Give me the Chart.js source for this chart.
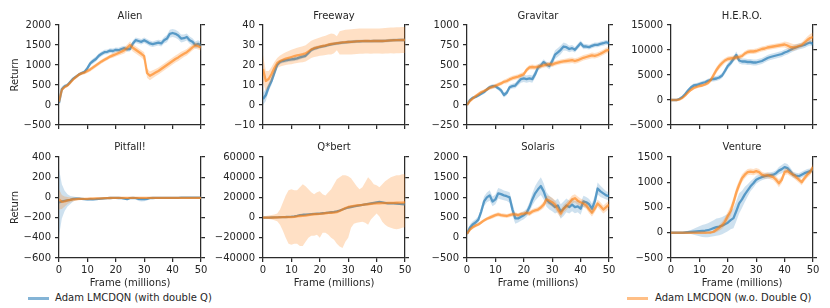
<!DOCTYPE html>
<html>
<head>
<meta charset="utf-8">
<script src="https://cdn.jsdelivr.net/npm/chart.js@4.4.1/dist/chart.umd.min.js"></script>
<style>
  html, body { margin: 0; padding: 0; background: #fff; }
  #wrap { position: relative; width: 830px; height: 308px; overflow: hidden; background: #fff;
          font-family: "DejaVu Sans", sans-serif; color: #262626; }
  canvas { position: absolute; }
  .ttl { position: absolute; width: 142px; text-align: center; font-size: 10px; line-height: 12px; white-space: nowrap; }
  .leg { position: absolute; font-size: 10px; line-height: 12px; white-space: nowrap; }
  .sw { position: absolute; height: 2.5px; width: 21px; }
</style>
</head>
<body>
<div id="wrap"></div>
<script>
// ---------------- data ----------------
const FRAMES = [0,1,2,3,4,5,6,7,8,9,10,11,12,13,14,15,16,17,18,19,20,21,22,23,24,25,26,27,28,29,30,31,32,33,34,35,36,37,38,39,40,41,42,43,44,45,46,47,48,49,50];
const X_TICKS = [0,10,20,30,40,50];
const TITLES = ['Alien','Freeway','Gravitar','H.E.R.O.','Pitfall!','Q*bert','Solaris','Venture'];
const SERIES_NAMES = ['Adam LMCDQN (with double Q)','Adam LMCDQN (w.o. Double Q)'];

const ALIEN_TICKS = [-500,0,500,1000,1500,2000];
const FREEWAY_TICKS = [-10,0,10,20,30,40];
const GRAVITAR_TICKS = [-250,0,250,500,750,1000];
const HERO_TICKS = [-5000,0,5000,10000,15000];
const PITFALL_TICKS = [-600,-400,-200,0,200,400];
const QBERT_TICKS = [-40000,-20000,0,20000,40000,60000];
const SOLARIS_TICKS = [-500,0,500,1000,1500,2000];
const VENTURE_TICKS = [-500,0,500,1000,1500];

const ALIEN_BLUE = [50,400,470,500,580,660,710,760,800,830,920,1040,1100,1150,1230,1280,1320,1330,1360,1350,1380,1370,1400,1420,1390,1400,1540,1620,1600,1580,1620,1580,1540,1520,1540,1560,1540,1620,1660,1780,1800,1780,1740,1660,1670,1700,1620,1580,1500,1530,1480];
const ALIEN_BLUE_HW = [40,60,50,40,40,40,40,40,40,40,50,60,60,60,60,60,60,60,60,60,60,60,60,60,60,60,70,70,70,70,70,70,70,70,70,70,80,80,90,100,100,100,100,100,90,90,90,90,90,90,90];
const ALIEN_ORANGE = [80,380,450,490,560,640,700,760,790,810,850,890,940,990,1040,1090,1130,1170,1210,1240,1270,1300,1330,1370,1430,1500,1430,1380,1330,1280,1220,800,730,770,810,850,900,950,1000,1050,1100,1150,1190,1240,1280,1320,1380,1440,1490,1470,1440];
const ALIEN_ORANGE_HW = [50,50,40,40,40,40,40,40,40,40,50,50,50,50,50,50,50,50,50,60,60,60,70,80,80,90,90,90,90,90,100,120,110,100,90,90,90,90,90,90,90,90,90,90,80,80,80,80,80,80,80];

const FREEWAY_BLUE = [3,5,9,12,16,20,21.5,22,22.3,22.6,22.8,23,23.3,23.8,24.2,24.6,26,27.5,28.2,28.6,29,29.3,29.6,30,30.3,30.6,30.8,31,31.2,31.3,31.5,31.6,31.7,31.8,31.8,31.9,31.9,31.9,31.9,32,32,32,32,32.1,32.2,32.3,32.4,32.4,32.5,32.5,32.5];
const FREEWAY_BLUE_HW = [3,3,2,2,1.5,1,1,1,1,1,1,1,1,1,1,1,1,1,1,1,0.8,0.8,0.8,0.8,0.8,0.8,0.8,0.8,0.8,0.8,0.8,0.8,0.8,0.8,0.8,0.8,0.8,0.8,0.8,0.8,0.8,0.8,0.8,0.8,0.8,0.8,0.8,0.8,0.8,0.8,0.8];
const FREEWAY_ORANGE = [18,12,13,15.5,18.5,21,22,22.6,23.2,23.6,24,24.4,24.8,25.1,25.4,25.8,26.8,27.8,28.4,28.8,29.2,29.5,29.8,30.2,30.5,30.7,30.9,31.1,31.3,31.4,31.5,31.6,31.7,31.8,31.9,31.9,32,32,31.9,32,32,32,32,32.1,32.2,32.3,32.3,32.4,32.4,32.5,32.5];
const FREEWAY_ORANGE_HW = [7,5,4,3.5,3,2.5,2.8,3,3.2,3.4,3.6,3.7,3.8,3.9,4,4.1,4.2,4.3,4.4,4.5,4.6,4.7,4.8,5,5.2,4.8,3.5,5.8,6,6.2,6.3,6.3,6.3,6.3,6.3,6.3,6.3,6.3,6.3,6.3,6.3,6.3,6.4,6.4,6.4,6.4,6.5,6.5,6.5,6.5,6.5];

const GRAVITAR_BLUE = [0,60,88,100,120,141,161,194,222,235,235,210,182,125,153,222,235,243,283,324,332,324,332,324,385,467,495,536,507,487,548,630,658,690,731,723,700,711,690,731,772,731,731,723,740,752,752,764,772,784,772];
const GRAVITAR_BLUE_HW = [10,20,20,20,20,20,25,25,25,25,25,25,30,30,30,30,30,35,40,45,45,45,45,45,45,40,35,35,35,40,50,55,55,55,50,45,40,40,35,35,35,35,30,30,30,30,30,30,30,30,30];
const GRAVITAR_ORANGE = [0,50,80,110,135,160,175,195,215,225,240,255,270,290,300,320,335,345,355,370,385,440,470,475,470,480,485,495,505,510,505,520,530,540,545,550,555,560,550,560,575,590,600,610,620,615,625,640,660,680,690];
const GRAVITAR_ORANGE_HW = [10,20,20,20,20,20,20,20,25,25,25,25,25,25,30,30,30,30,30,30,30,30,30,30,30,30,30,30,30,30,30,30,30,30,30,30,35,35,35,35,35,35,35,35,35,35,35,35,35,35,35];

const HERO_BLUE = [0,0,0,250,600,1200,1900,2500,2900,3000,3200,3400,3550,3850,4050,4200,4300,4500,4900,5800,6800,7400,8200,9000,7900,7700,7700,7600,7600,7500,7500,7650,7800,8100,8400,8600,8750,8900,9050,9200,9500,9700,10000,10300,10500,10700,10850,11000,11300,11500,11200];
const HERO_BLUE_HW = [50,50,50,100,200,300,400,400,400,400,400,400,400,400,400,500,500,500,500,600,600,600,600,700,600,600,600,600,600,600,600,600,600,600,600,600,600,600,600,600,600,600,600,600,600,600,600,600,600,600,600];
const HERO_ORANGE = [0,0,0,100,400,900,1500,2000,2400,2600,2800,2900,3100,3400,4000,5000,6000,6800,7400,7900,8200,8300,8400,8500,8600,8800,9300,9600,9700,9700,9800,10000,10200,10300,10500,10600,10700,10800,10900,11000,11100,10900,10600,10500,10600,10800,11000,11500,12000,12400,12600];
const HERO_ORANGE_HW = [50,50,50,100,200,300,300,300,300,300,300,300,300,400,500,600,600,600,600,500,500,500,500,500,500,500,500,500,500,500,500,500,500,500,500,500,500,500,500,500,600,700,800,700,600,500,500,600,700,800,900];

const PITFALL_BLUE = [-50,-40,-35,-30,-25,-15,-12,-12,-15,-18,-20,-18,-20,-18,-15,-12,-10,-8,-6,-5,-5,-6,-8,-12,-18,-8,-6,-8,-15,-18,-18,-15,-8,-6,-5,-5,-5,-5,-4,-4,-4,-4,-4,-3,-3,-3,-3,-3,-3,-3,-3];
const PITFALL_BLUE_HW = [330,170,100,60,40,25,15,12,10,10,10,10,10,10,10,10,8,8,8,8,8,8,8,8,10,8,8,10,20,22,20,15,8,8,6,6,6,6,6,6,6,6,6,6,6,6,6,6,6,6,6];
const PITFALL_ORANGE = [-20,-45,-40,-30,-25,-20,-18,-15,-15,-15,-14,-12,-12,-10,-10,-10,-8,-7,-6,-5,-5,-5,-5,-5,-5,-5,-5,-5,-5,-5,-5,-5,-5,-5,-5,-5,-5,-5,-5,-5,-5,-5,-5,-5,-5,-5,-5,-5,-5,-5,-5];
const PITFALL_ORANGE_HW = [100,70,50,35,25,18,14,12,10,10,10,10,10,10,10,10,10,10,10,10,10,10,10,10,10,10,10,10,10,10,10,10,10,10,10,10,10,10,10,10,10,10,10,10,10,10,10,10,10,10,10];

const QBERT_BLUE = [0,0,0,100,200,300,400,500,600,800,1000,1300,1800,2500,2800,3000,3200,3400,3600,3800,4000,4300,4600,5000,5300,5600,6200,7000,8000,9000,10000,10500,11000,11500,12000,12500,13000,13500,14000,14500,15000,15500,15000,14500,14000,14000,14000,13800,13500,13300,13000];
const QBERT_BLUE_HW = [200,200,200,200,300,300,300,400,400,400,500,500,600,600,700,700,700,700,700,700,800,800,800,800,800,800,900,900,1000,1000,1000,1000,1000,1000,1000,1000,1000,1000,1000,1000,1000,1000,1000,1000,1000,1000,1000,1000,1000,1000,1000];
const QBERT_ORANGE = [0,0,0,0,100,200,300,400,400,450,500,800,1200,1600,1800,2000,2500,3000,3300,3500,3700,4000,4300,4600,4800,5000,5500,6500,8000,9500,10500,11000,11500,12000,12300,12500,13000,13200,13500,13800,14000,14200,14300,14400,14500,14500,14600,14700,14800,14900,15000];
const QBERT_ORANGE_HI = [1000,1500,2000,2500,3000,4000,8000,15000,22000,27000,28000,27000,27000,30000,33000,31000,28000,25000,23000,25000,26000,23000,22000,25000,28000,33000,38000,40000,42000,42000,41000,39000,35000,31000,28000,30000,35000,40000,37000,33000,32000,30000,33000,36000,38000,40000,41000,42000,42000,43000,43000];
const QBERT_ORANGE_LO = [-1000,-1200,-1500,-2000,-2500,-3500,-7000,-13000,-20000,-26000,-27000,-26000,-26000,-28000,-28000,-24000,-20000,-18000,-18000,-17000,-20000,-15000,-15000,-17000,-20000,-22000,-26000,-28500,-30000,-24000,-20000,-10000,-6000,-5000,-4500,-4000,-5000,-7000,-2000,1000,4000,1000,-4000,-7000,-9000,-10000,-11000,-11500,-11000,-10000,-9500];

const SOLARIS_BLUE = [100,250,330,380,450,650,900,1000,1050,900,950,1100,1080,1050,1030,1000,700,480,480,520,560,620,760,950,1100,1200,1280,1150,950,870,820,760,800,650,720,800,760,820,760,780,720,900,880,830,720,900,1220,1150,1100,1050,1030];
const SOLARIS_BLUE_HW = [50,80,80,80,80,100,120,120,130,120,120,130,130,120,120,130,150,130,100,100,100,100,120,150,180,200,220,200,180,170,160,160,170,180,180,170,160,160,150,150,150,140,130,130,130,140,150,140,120,100,100];
const SOLARIS_ORANGE = [100,200,260,300,330,380,430,470,500,530,560,580,560,550,540,560,580,580,560,590,600,620,600,650,680,700,750,820,950,920,880,820,700,600,720,780,860,950,980,920,880,850,800,700,620,720,850,780,700,760,820];
const SOLARIS_ORANGE_HW = [30,40,40,40,40,40,40,40,50,50,50,50,50,50,50,50,50,50,50,50,50,60,60,60,60,60,70,80,100,110,110,110,110,100,100,100,100,100,100,100,90,90,90,90,90,90,90,100,100,100,100];

const VENTURE_BLUE = [0,0,0,0,0,5,10,15,20,25,30,35,40,50,70,90,110,120,140,170,200,250,290,430,580,660,760,840,920,980,1050,1080,1100,1120,1130,1140,1150,1180,1230,1260,1300,1280,1220,1150,1130,1120,1150,1180,1200,1220,1260];
const VENTURE_BLUE_HW = [0,0,0,0,5,20,30,40,60,80,100,120,130,140,150,160,170,170,170,170,170,180,200,200,200,170,150,120,100,90,80,70,60,60,60,60,60,60,70,80,80,80,70,60,60,60,60,60,60,50,50];
const VENTURE_ORANGE = [0,0,0,0,0,0,0,0,0,0,0,0,0,2,5,20,60,100,150,220,330,430,600,800,950,1080,1150,1200,1210,1200,1220,1200,1150,1130,1140,1120,1100,1050,980,1050,1200,1220,1180,1150,1100,1050,1000,1080,1150,1200,1300];
const VENTURE_ORANGE_HW = [0,0,0,0,0,0,0,0,0,0,0,0,5,10,20,30,50,60,70,80,90,100,100,100,90,80,70,60,60,60,60,60,60,60,60,60,60,70,80,70,60,60,60,60,60,60,60,60,60,60,60];

// ---------------- panels table built from the arrays ----------------
const addArr = (a, b, s) => a.map((v, i) => v + s * b[i]);
const PANELS = [
  {ticks: ALIEN_TICKS,    b: ALIEN_BLUE,    bh: ALIEN_BLUE_HW,    o: ALIEN_ORANGE,    oh: ALIEN_ORANGE_HW},
  {ticks: FREEWAY_TICKS,  b: FREEWAY_BLUE,  bh: FREEWAY_BLUE_HW,  o: FREEWAY_ORANGE,  oh: FREEWAY_ORANGE_HW},
  {ticks: GRAVITAR_TICKS, b: GRAVITAR_BLUE, bh: GRAVITAR_BLUE_HW, o: GRAVITAR_ORANGE, oh: GRAVITAR_ORANGE_HW},
  {ticks: HERO_TICKS,     b: HERO_BLUE,     bh: HERO_BLUE_HW,     o: HERO_ORANGE,     oh: HERO_ORANGE_HW},
  {ticks: PITFALL_TICKS,  b: PITFALL_BLUE,  bh: PITFALL_BLUE_HW,  o: PITFALL_ORANGE,  oh: PITFALL_ORANGE_HW},
  {ticks: QBERT_TICKS,    b: QBERT_BLUE,    bh: QBERT_BLUE_HW,    o: QBERT_ORANGE,    ohi: QBERT_ORANGE_HI, olo: QBERT_ORANGE_LO},
  {ticks: SOLARIS_TICKS,  b: SOLARIS_BLUE,  bh: SOLARIS_BLUE_HW,  o: SOLARIS_ORANGE,  oh: SOLARIS_ORANGE_HW},
  {ticks: VENTURE_TICKS,  b: VENTURE_BLUE,  bh: VENTURE_BLUE_HW,  o: VENTURE_ORANGE,  oh: VENTURE_ORANGE_HW}
];

// ---------------- styles / layout ----------------
const BLUE_LINE = 'rgba(31,119,180,0.68)';
const BLUE_BAND = 'rgba(31,119,180,0.22)';
const ORANGE_LINE = 'rgba(255,127,14,0.62)';
const ORANGE_BAND = 'rgba(255,127,14,0.24)';
const AX = '#2b2b2b';
const TXT = '#262626';
const FONT = {family: '"DejaVu Sans", sans-serif', size: 10};
const PLOT_LEFT = [59, 263, 467, 671];
const PLOT_W = 142;

Chart.defaults.font.family = FONT.family;
Chart.defaults.font.size = FONT.size;
Chart.defaults.color = TXT;

const fmt = v => String(v).replace('-', '\u2212');
const wrap = document.getElementById('wrap');

function pts(arr) { return FRAMES.map((x, i) => ({x: x, y: arr[i]})); }

PANELS.forEach((p, i) => {
  const row = Math.floor(i / 4), col = i % 4;
  const W = col === 0 ? 59 : 50;
  const top = row === 0 ? 10 : 142;
  const plotH = row === 0 ? 102 : 101;
  const xH = row === 0 ? 8 : 32;
  const cw = W + PLOT_W + 10, ch = 15 + plotH + xH;

  const cv = document.createElement('canvas');
  cv.width = cw; cv.height = ch;
  cv.style.left = (PLOT_LEFT[col] - W) + 'px';
  cv.style.top = top + 'px';
  cv.style.width = cw + 'px'; cv.style.height = ch + 'px';
  wrap.appendChild(cv);

  const t = document.createElement('div');
  t.className = 'ttl';
  t.textContent = TITLES[i];
  t.style.left = PLOT_LEFT[col] + 'px';
  t.style.top = (row === 0 ? 10 : 141) + 'px';
  wrap.appendChild(t);

  const bHi = addArr(p.b, p.bh, 1), bLo = addArr(p.b, p.bh, -1);
  const oHi = p.ohi ? p.ohi : addArr(p.o, p.oh, 1);
  const oLo = p.olo ? p.olo : addArr(p.o, p.oh, -1);
  const yt = p.ticks;
  const ymin = yt[0], ymax = yt[yt.length - 1];

  const grid = {display: true, drawOnChartArea: false, drawTicks: true, tickLength: 4,
                color: AX, tickColor: AX, tickWidth: 1.25, lineWidth: 1.25};
  const border = {display: true, color: AX, width: 1.25};
  const lineDs = (arr, color, order) => ({data: pts(arr), borderColor: color, borderWidth: 2.3,
      pointRadius: 0, fill: false, order: order, tension: 0, borderJoinStyle: 'round'});
  const bandDs = (arr, color, fill, order) => ({data: pts(arr), borderWidth: 0, borderColor: 'rgba(0,0,0,0)',
      backgroundColor: color, pointRadius: 0, fill: fill, order: order, tension: 0});

  new Chart(cv, {
    type: 'line',
    data: {
      datasets: [
        lineDs(p.b, BLUE_LINE, 3),
        bandDs(bHi, BLUE_BAND, '+1', 4),
        bandDs(bLo, BLUE_BAND, false, 4),
        lineDs(p.o, ORANGE_LINE, 1),
        bandDs(oHi, ORANGE_BAND, '+1', 2),
        bandDs(oLo, ORANGE_BAND, false, 2)
      ]
    },
    options: {
      responsive: false,
      animation: false,
      events: [],
      layout: {padding: {top: 15, left: 0, right: 0, bottom: 0}},
      plugins: {legend: {display: false}, tooltip: {enabled: false}, title: {display: false}},
      scales: {
        x: {
          type: 'linear', min: 0, max: 50,
          afterBuildTicks: s => { s.ticks = X_TICKS.map(v => ({value: v})); },
          afterFit: s => { s.height = xH; },
          ticks: {display: row === 1, padding: 2, maxRotation: 0, autoSkip: false, color: TXT, font: FONT, callback: fmt},
          grid: grid, border: border,
          title: {display: row === 1, text: 'Frame (millions)', color: TXT, font: FONT, padding: {top: 0, bottom: 0.5}}
        },
        y: {
          type: 'linear', position: 'left', min: ymin, max: ymax,
          afterBuildTicks: s => { s.ticks = yt.map(v => ({value: v})); },
          afterFit: s => { s.width = W; },
          ticks: {padding: 4, color: TXT, font: FONT, callback: fmt, autoSkip: false},
          grid: grid, border: border,
          title: {display: col === 0, text: 'Return', color: TXT, font: FONT, padding: {top: 9, bottom: 0}}
        },
        y2: {
          type: 'linear', position: 'right', min: ymin, max: ymax,
          afterBuildTicks: s => { s.ticks = yt.map(v => ({value: v})); },
          afterFit: s => { s.width = 10; },
          ticks: {display: false},
          grid: grid, border: border
        }
      }
    }
  });
});

// ---------------- legend (HTML text) ----------------
const LEG = [{x: 28, tx: 55, c: 'rgba(31,119,180,0.55)'}, {x: 627, tx: 655, c: 'rgba(255,127,14,0.5)'}];
LEG.forEach((l, k) => {
  const s = document.createElement('div');
  s.className = 'sw';
  s.style.left = l.x + 'px'; s.style.top = '297px'; s.style.background = l.c;
  wrap.appendChild(s);
  const d = document.createElement('div');
  d.className = 'leg';
  d.style.left = l.tx + 'px'; d.style.top = '292px';
  d.textContent = SERIES_NAMES[k];
  wrap.appendChild(d);
});
</script>
</body>
</html>
